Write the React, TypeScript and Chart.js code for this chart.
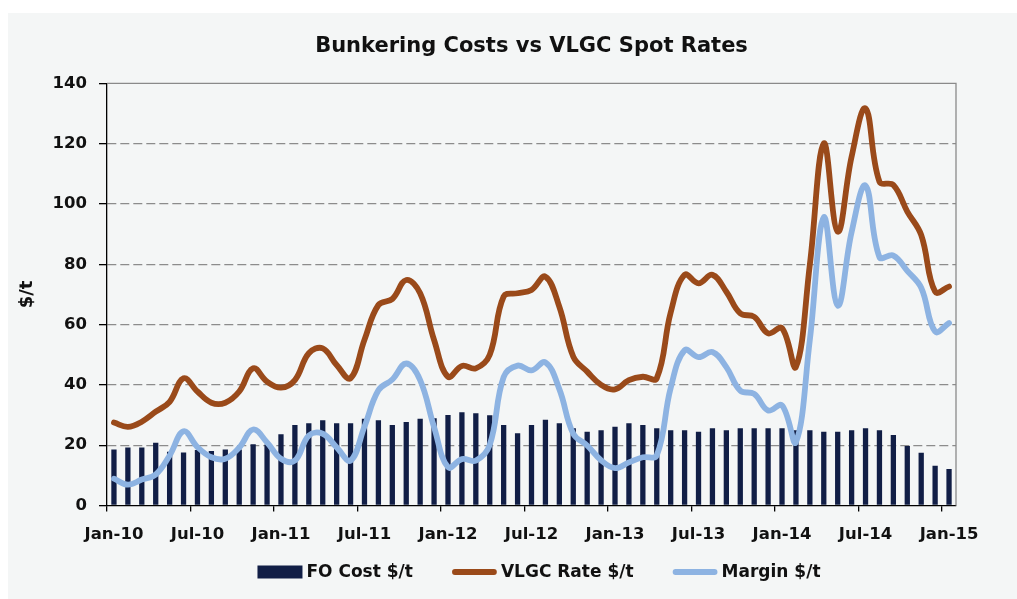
import React, { useEffect, useRef } from 'react';
import { Chart, registerables } from 'chart.js';

Chart.register(...registerables);

const MONTHS = ['Jan', 'Feb', 'Mar', 'Apr', 'May', 'Jun', 'Jul', 'Aug', 'Sep', 'Oct', 'Nov', 'Dec'];
const YEARS = ['10', '11', '12', '13', '14', '15'];
const MONTH_COUNT = 61;

const categories: string[] = [];
for (const y of YEARS) {
  for (const m of MONTHS) {
    if (categories.length < MONTH_COUNT) categories.push(`${m}-${y}`);
  }
}

const foCost = [
  18.6, 19.2, 19.2, 20.8, 17.8, 17.6, 18.4, 18.1, 18.6, 18.6,
  20.3, 20.2, 23.6, 26.7, 27.3, 28.3, 27.3, 27.3, 28.8, 28.3,
  26.7, 27.7, 28.8, 28.9, 30.0, 30.9, 30.6, 29.9, 26.7, 24.0,
  26.7, 28.4, 27.3, 25.6, 24.5, 25.0, 26.1, 27.3, 26.7, 25.6,
  25.0, 25.0, 24.5, 25.6, 25.0, 25.6, 25.6, 25.6, 25.6, 25.0,
  25.0, 24.5, 24.5, 25.0, 25.6, 25.0, 23.4, 19.7, 17.5, 13.2, 12.1,
];

const vlgcRate = [
  27.5, 26.1, 27.8, 31.1, 34.4, 42.2, 37.8, 34.1, 34.1, 37.8,
  45.5, 41.1, 39.1, 41.6, 50.5, 52.1, 46.6, 42.2, 55.0, 66.5,
  68.5, 74.8, 70.4, 54.9, 42.7, 46.3, 45.5, 50.0, 69.3, 70.4,
  71.5, 75.9, 65.9, 49.4, 44.4, 40.0, 38.5, 41.6, 42.7, 42.2,
  64.0, 76.5, 73.7, 76.5, 70.9, 63.7, 62.6, 57.1, 58.8, 46.0,
  80.0, 120.1, 90.8, 115.7, 131.7, 107.4, 106.3, 97.5, 89.7, 70.9, 72.6,
];

const margin = [
  8.9, 6.9, 8.6, 10.3, 16.6, 24.6, 19.4, 16.0, 15.5, 19.2,
  25.2, 20.9, 15.5, 14.9, 23.2, 23.8, 19.3, 14.9, 26.2, 38.2,
  41.8, 47.1, 41.6, 26.0, 12.7, 15.4, 14.9, 20.1, 42.6, 46.4,
  44.8, 47.5, 38.6, 23.8, 19.9, 15.0, 12.4, 14.3, 16.0, 16.6,
  39.0, 51.5, 49.2, 50.9, 45.9, 38.1, 37.0, 31.5, 33.2, 21.0,
  55.0, 95.6, 66.3, 90.7, 106.1, 82.4, 82.9, 77.8, 72.2, 57.7, 60.5,
];

const NAVY = '#111e46';
const BROWN = '#9a4a1a';
const LIGHT_BLUE = '#8db3e2';
const BG = '#f4f6f6';
const FONT = 'DejaVu Sans';
const LINE_W = 5.8;

const framePlugin = {
  id: 'frame',
  beforeDatasetsDraw(chart: any) {
    const { ctx, chartArea } = chart;
    const { left, right, top, bottom } = chartArea;
    ctx.save();
    ctx.strokeStyle = '#8a8a8a';
    ctx.lineWidth = 1.3;
    ctx.beginPath();
    ctx.moveTo(left, top);
    ctx.lineTo(right, top);
    ctx.lineTo(right, bottom);
    ctx.stroke();
    ctx.restore();
  },
};

// Legend drawn under the axis, centred on the plot, from the chart's datasets.
const bottomLegendPlugin = {
  id: 'bottomLegend',
  afterDraw(chart: any) {
    const { ctx, chartArea } = chart;
    const symW = 45;
    const symGap = 4;
    const itemGap = 39;
    const font = `bold 17px "${FONT}"`;
    ctx.save();
    ctx.font = font;
    const items = chart.data.datasets.map((ds: any) => ({
      label: ds.label as string,
      type: ds.type as string,
      color: (ds.type === 'bar' ? ds.backgroundColor : ds.borderColor) as string,
      w: ctx.measureText(ds.label).width,
    }));
    const total =
      items.reduce((s: number, it: any) => s + symW + symGap + it.w, 0) + itemGap * (items.length - 1);
    const cx = (chartArea.left + chartArea.right) / 2 + 7.5;
    const cy = chartArea.bottom + 66.5;
    let x = cx - total / 2;
    for (const it of items) {
      if (it.type === 'bar') {
        ctx.fillStyle = it.color;
        ctx.fillRect(x, cy - 6.5, symW, 13);
      } else {
        ctx.strokeStyle = it.color;
        ctx.lineWidth = LINE_W;
        ctx.lineCap = 'round';
        ctx.beginPath();
        ctx.moveTo(x + 3, cy);
        ctx.lineTo(x + symW - 3, cy);
        ctx.stroke();
      }
      x += symW + symGap;
      ctx.fillStyle = '#111111';
      ctx.textBaseline = 'middle';
      ctx.textAlign = 'left';
      ctx.fillText(it.label, x, cy + 1);
      x += it.w + itemGap;
    }
    ctx.restore();
  },
};

export default function App() {
  const canvasRef = useRef<HTMLCanvasElement | null>(null);

  useEffect(() => {
    if (!canvasRef.current) return;
    const chart = new Chart(canvasRef.current, {
      type: 'bar',
      data: {
        labels: categories,
        datasets: [
          {
            type: 'bar',
            label: 'FO Cost $/t',
            data: foCost,
            backgroundColor: NAVY,
            borderWidth: 0,
            barPercentage: 0.38,
            categoryPercentage: 1,
            order: 3,
          } as any,
          {
            type: 'line',
            label: 'VLGC Rate $/t',
            data: vlgcRate,
            borderColor: BROWN,
            backgroundColor: BROWN,
            borderWidth: LINE_W,
            pointRadius: 0,
            pointHoverRadius: 0,
            tension: 0.4,
            borderCapStyle: 'round',
            borderJoinStyle: 'round',
            order: 2,
          } as any,
          {
            type: 'line',
            label: 'Margin $/t',
            data: margin,
            borderColor: LIGHT_BLUE,
            backgroundColor: LIGHT_BLUE,
            borderWidth: LINE_W,
            pointRadius: 0,
            pointHoverRadius: 0,
            tension: 0.4,
            borderCapStyle: 'round',
            borderJoinStyle: 'round',
            order: 1,
          } as any,
        ],
      },
      options: {
        animation: false,
        responsive: true,
        maintainAspectRatio: false,
        layout: { padding: { left: 0, right: 61, top: 0, bottom: 45.5 } },
        plugins: {
          tooltip: { enabled: false },
          legend: { display: false },
          title: {
            display: true,
            text: 'Bunkering Costs vs VLGC Spot Rates',
            color: '#111111',
            font: { family: FONT, size: 21, weight: 'bold' },
            padding: { top: 21.4, bottom: 23.8 },
            fullSize: false,
          },
        },
        scales: {
          x: {
            type: 'category',
            offset: true,
            afterFit: (scale: any) => {
              scale.height = 48;
            },
            grid: {
              offset: true,
              drawOnChartArea: false,
              drawTicks: true,
              tickLength: 6,
              lineWidth: 1.3,
              color: (ctx: any) => (ctx.index % 6 === 0 ? '#000000' : 'rgba(0,0,0,0)'),
              tickColor: (ctx: any) => (ctx.index % 6 === 0 ? '#000000' : 'rgba(0,0,0,0)'),
            },
            border: { display: true, color: '#000000', width: 1.3 },
            ticks: {
              autoSkip: false,
              maxRotation: 0,
              minRotation: 0,
              padding: 13,
              color: '#111111',
              font: { family: FONT, size: 16.5, weight: 'bold' },
              callback: (_v: any, idx: number) => (idx % 6 === 0 ? categories[idx] : ''),
            },
          },
          y: {
            min: 0,
            max: 140,
            afterFit: (scale: any) => {
              scale.width = 99;
            },
            ticks: {
              stepSize: 20,
              padding: 12,
              color: '#111111',
              font: { family: FONT, size: 16.5, weight: 'bold' },
            },
            grid: {
              drawTicks: true,
              tickLength: 8,
              lineWidth: 1.3,
              color: (ctx: any) => (ctx.index === 0 || ctx.index === 7 ? 'rgba(0,0,0,0)' : '#8c8c8c'),
              tickColor: '#000000',
              tickWidth: 1.3,
            },
            border: { display: true, color: '#000000', width: 1.3, dash: [9, 4] },
            title: {
              display: true,
              text: '$/t',
              color: '#111111',
              font: { family: FONT, size: 18, weight: 'bold' },
              padding: { top: 9, bottom: 0 },
            },
          },
        },
      } as any,
      plugins: [framePlugin, bottomLegendPlugin],
    });
    return () => chart.destroy();
  }, []);

  return (
    <div
      style={{
        position: 'absolute',
        left: 8,
        top: 13,
        width: 1009,
        height: 586,
        background: BG,
      }}
    >
      <canvas ref={canvasRef} />
    </div>
  );
}
